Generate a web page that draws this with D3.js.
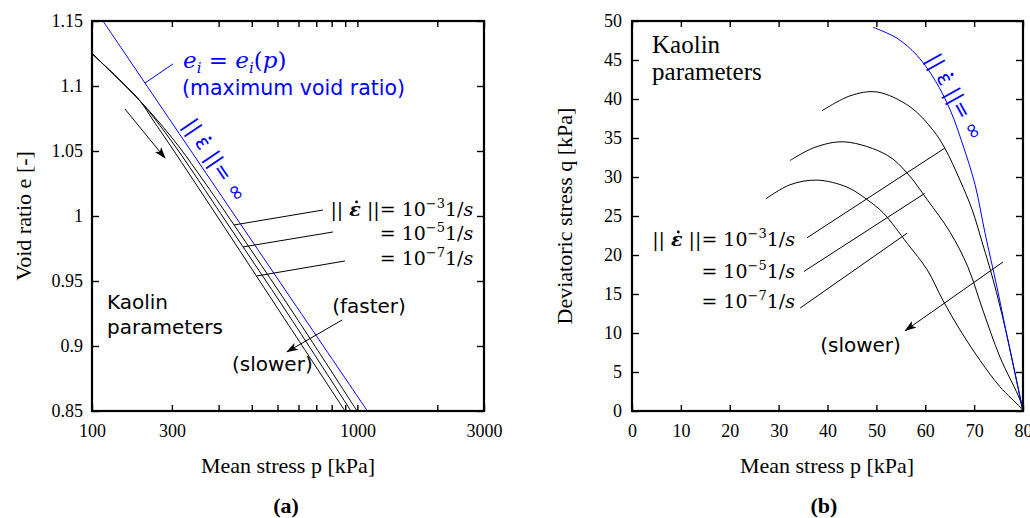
<!DOCTYPE html>
<html>
<head>
<meta charset="utf-8">
<script src="https://cdn.jsdelivr.net/npm/d3@7"></script>
<style>
body { margin: 0; background: #fff; }
text { font-family: "Liberation Serif", "Times New Roman", serif; fill: #000; }
.sans { font-family: "DejaVu Sans", sans-serif; }
.math { font-family: "DejaVu Serif", serif; }
</style>
</head>
<body>
<div id="chart"></div>
<script>
// ---------- panel (a): void ratio e vs mean stress p (log axis) ----------
const pTicksA = [100, 200, 300, 400, 500, 600, 700, 800, 900, 1000, 2000, 3000];
const pLabelsA = {100: "100", 200: "300", 1000: "1000", 3000: "3000"};
const eTicksA = [0.85, 0.9, 0.95, 1, 1.05, 1.1, 1.15];

// e_i(p), maximum void ratio
const blueA_p = [110, 346, 1091];
const blueA_e = [1.15, 1.0, 0.85];
// rate 1e-3, 1e-5, 1e-7 1/s
const fastA_p = [100, 130.9, 151.7, 177.3, 214.6, 262.0, 337.0, 576.9, 997];
const fastA_e = [1.125, 1.102, 1.0885, 1.0731, 1.0523, 1.0277, 0.9954, 0.9246, 0.85];
const midA_p  = [100, 130.9, 151.7, 172.7, 205.5, 244.4, 317.1, 547.7, 946];
const midA_e  = [1.125, 1.102, 1.0885, 1.0746, 1.0538, 1.0315, 0.9969, 0.9246, 0.85];
const slowA_p = [100, 130.9, 151.7, 169.7, 200.2, 295.8, 510.9, 898];
const slowA_e = [1.125, 1.102, 1.0885, 1.0738, 1.0523, 1.0, 0.9262, 0.85];

// ---------- panel (b): deviatoric stress q vs mean stress p ----------
const pTicksB = [0, 10, 20, 30, 40, 50, 60, 70, 80];
const qTicksB = [0, 5, 10, 15, 20, 25, 30, 35, 40, 45, 50];

const blueB_p = [49.3, 54.2, 58.3, 62.0, 65.1, 67.7, 70.2, 72.2, 74.7, 77.3, 80];
const blueB_q = [49.2, 47.8, 45.6, 42.4, 38.6, 34.1, 29.0, 22.9, 15.8, 7.9, 0];
const fastB_p = [38.9, 44.6, 50.1, 56.9, 61.6, 64.0, 67.1, 69.6, 71.8, 73.9, 76.7, 80];
const fastB_q = [38.5, 40.4, 40.9, 39.0, 36.0, 33.7, 29.6, 25.8, 21.3, 16.8, 9.7, 0];
const midB_p  = [32.3, 37.4, 43.6, 52.2, 56.3, 60.4, 65.1, 68.7, 71.8, 75.3, 79.4, 80];
const midB_q  = [32.1, 33.8, 34.5, 32.8, 30.5, 27.1, 22.9, 18.5, 12.9, 6.9, 1.4, 0];
const slowB_p = [27.4, 32.3, 37.9, 44.0, 48.1, 51.4, 56.3, 60.4, 63.6, 67.1, 71.2, 75.3, 79.4, 80];
const slowB_q = [27.2, 29.0, 29.6, 28.7, 27.1, 25.4, 21.5, 18.1, 14.2, 10.4, 6.5, 3.1, 0.5, 0];

const rateExps = ["\u22123", "\u22125", "\u22127"];
const blue = "#0000ff";

const W = 1030, H = 518;
const svg = d3.select("#chart").append("svg")
    .attr("width", W).attr("height", H);
const defs = svg.append("defs");

const zip = (a, b) => a.map((v, i) => [v, b[i]]);

function frameAndAxes(g, x, y, xTicks, yTicks, xFmt, yFmt, ypad) {
    const [x0, x1] = x.range(), [y0, y1] = y.range();
    g.append("g").attr("transform", `translate(0,${y0})`)
        .call(d3.axisBottom(x).tickValues(xTicks).tickSizeInner(-6).tickSizeOuter(0)
            .tickPadding(13).tickFormat(xFmt));
    g.append("g").attr("transform", `translate(0,${y1})`)
        .call(d3.axisTop(x).tickValues(xTicks).tickSizeInner(-6).tickSizeOuter(0).tickFormat(""));
    g.append("g").attr("transform", `translate(${x0},0)`)
        .call(d3.axisLeft(y).tickValues(yTicks).tickSizeInner(-7).tickSizeOuter(0)
            .tickPadding(ypad).tickFormat(yFmt));
    g.append("g").attr("transform", `translate(${x1},0)`)
        .call(d3.axisRight(y).tickValues(yTicks).tickSizeInner(-7).tickSizeOuter(0).tickFormat(""));
    g.selectAll(".domain").remove();
    g.selectAll(".tick line").attr("stroke", "#000").attr("stroke-width", 1.4);
    g.selectAll(".tick text").style("font-size", "18px").style("font-family", "Liberation Serif");
    g.append("rect")
        .attr("x", x0).attr("y", y1).attr("width", x1 - x0).attr("height", y0 - y1)
        .attr("fill", "none").attr("stroke", "#000").attr("stroke-width", 2.2);
}

// put a small dot over the character at index i of a text (epsilon-dot)
function dotOver(parent, text, i, baseY, fs, color, shift) {
    const ext = text.node().getExtentOfChar(i);
    parent.append("circle")
        .attr("cx", ext.x + ext.width / 2 + shift)
        .attr("cy", baseY - 0.74 * fs)
        .attr("r", fs * 0.075)
        .attr("fill", color);
}

function mathLabel(g, px, py, exp, first) {
    const fs = 19;
    const t = g.append("text").attr("class", "math").attr("x", px).attr("y", py)
        .attr("text-anchor", "end").style("font-size", fs + "px");
    if (first) {
        t.append("tspan").text("|| ");
        t.append("tspan").style("font-weight", "bold").style("font-style", "italic").text("\u03B5");
        t.append("tspan").text(" ||= 10");
    } else {
        t.append("tspan").text("= 10");
    }
    t.append("tspan").attr("dy", -8).style("font-size", "13px").text(exp);
    t.append("tspan").attr("dy", 8).text("1/");
    t.append("tspan").style("font-style", "italic").text("s");
    if (first) dotOver(g, t, 3, py, fs, "#000", 1.5);
}

function infLabel(g, cx, cy, angle) {
    const fs = 21;
    const gg = g.append("g").attr("transform", `translate(${cx},${cy}) rotate(${angle})`);
    const base = 0.35 * fs;
    const t = gg.append("text").attr("class", "sans")
        .attr("x", 0).attr("y", base).attr("text-anchor", "middle")
        .style("font-size", fs + "px").style("fill", blue);
    t.append("tspan").text("|| \u03B5 ||= \u221E");
    dotOver(gg, t, 3, base, fs, blue, 0);
}

defs.append("marker")
    .attr("id", "arr").attr("viewBox", "0 -5 12 10")
    .attr("refX", 11).attr("refY", 0)
    .attr("markerWidth", 12).attr("markerHeight", 10)
    .attr("markerUnits", "userSpaceOnUse").attr("orient", "auto")
    .append("path").attr("d", "M0,-4L12,0L0,4L3,0Z").attr("fill", "#000");

// ================= panel (a) =================
{
    const x = d3.scaleLog().domain([100, 3000]).range([92, 484]);
    const y = d3.scaleLinear().domain([0.85, 1.15]).range([411, 21]);
    const g = svg.append("g");
    defs.append("clipPath").attr("id", "clipA")
        .append("rect").attr("x", 92).attr("y", 21).attr("width", 392).attr("height", 390);

    const line = d3.line().x(d => x(d[0])).y(d => y(d[1]))
        .curve(d3.curveCatmullRom.alpha(0.5));
    const cg = g.append("g").attr("clip-path", "url(#clipA)");
    [[fastA_p, fastA_e], [midA_p, midA_e], [slowA_p, slowA_e]].forEach(([p, e]) =>
        cg.append("path").datum(zip(p, e)).attr("d", line)
            .attr("fill", "none").attr("stroke", "#000").attr("stroke-width", 1));
    cg.append("path").datum(zip(blueA_p, blueA_e)).attr("d", line)
        .attr("fill", "none").attr("stroke", blue).attr("stroke-width", 1);

    frameAndAxes(g, x, y, pTicksA, eTicksA, d => pLabelsA[d] || "", d => d3.format("")(d), 9);

    // leader lines to rate labels
    const leadA = [[343.1, 0.9931, 742, 1.0046], [370.9, 0.9762, 809, 0.9877], [416.2, 0.9538, 898, 0.9654]];
    leadA.forEach(l => g.append("line")
        .attr("x1", x(l[0])).attr("y1", y(l[1])).attr("x2", x(l[2])).attr("y2", y(l[3]))
        .attr("stroke", "#000").attr("stroke-width", 1));
    [1.0, 0.9816, 0.9624].forEach((e, i) => mathLabel(g, x(2734), y(e), rateExps[i], i === 0));

    // loading direction arrow
    g.append("line").attr("x1", x(133.1)).attr("y1", y(1.0823)).attr("x2", x(188.4)).attr("y2", y(1.0446))
        .attr("stroke", "#000").attr("stroke-width", 1).attr("marker-end", "url(#arr)");
    // faster -> slower arrow
    g.append("line").attr("x1", x(875.6)).attr("y1", y(0.920)).attr("x2", x(542.9)).attr("y2", y(0.8955))
        .attr("stroke", "#000").attr("stroke-width", 1).attr("marker-end", "url(#arr)");

    // e_i label
    g.append("line").attr("x1", x(158.4)).attr("y1", y(1.1023)).attr("x2", x(202)).attr("y2", y(1.117))
        .attr("stroke", blue).attr("stroke-width", 1);
    const ei = g.append("text").attr("class", "math").attr("x", x(220.3)).attr("y", y(1.1139))
        .style("font-size", "23px").style("fill", blue);
    ei.append("tspan").style("font-style", "italic").text("e");
    ei.append("tspan").attr("dy", 5).style("font-size", "15px").style("font-style", "italic").text("i");
    ei.append("tspan").attr("dy", -5).text(" = ");
    ei.append("tspan").style("font-style", "italic").text("e");
    ei.append("tspan").attr("dy", 5).style("font-size", "15px").style("font-style", "italic").text("i");
    ei.append("tspan").attr("dy", -5).text("(");
    ei.append("tspan").style("font-style", "italic").text("p");
    ei.append("tspan").text(")");
    g.append("text").attr("class", "sans").attr("x", x(218.4)).attr("y", y(1.0931))
        .style("font-size", "20.5px").style("fill", blue).text("(maximum void ratio)");

    infLabel(g, x(290.8), y(1.0431), 56);

    g.append("text").attr("class", "sans").attr("x", x(113.9)).attr("y", y(0.9285))
        .style("font-size", "20px").text("Kaolin");
    g.append("text").attr("class", "sans").attr("x", x(113.9)).attr("y", y(0.9093))
        .style("font-size", "20px").text("parameters");
    g.append("text").attr("class", "sans").attr("x", x(803.7)).attr("y", y(0.9255))
        .style("font-size", "20px").text("(faster)");
    g.append("text").attr("class", "sans").attr("x", x(336.9)).attr("y", y(0.8808))
        .style("font-size", "20px").text("(slower)");

    g.append("text").attr("transform", "translate(31,216) rotate(-90)")
        .attr("text-anchor", "middle").style("font-size", "22px").text("Void ratio e  [-]");
    g.append("text").attr("x", 288).attr("y", 473).attr("text-anchor", "middle")
        .style("font-size", "22px").text("Mean stress p [kPa]");
    g.append("text").attr("x", 286).attr("y", 513).attr("text-anchor", "middle")
        .style("font-size", "22px").style("font-weight", "bold").text("(a)");
}

// ================= panel (b) =================
{
    const x = d3.scaleLinear().domain([0, 80]).range([632, 1023]);
    const y = d3.scaleLinear().domain([0, 50]).range([411, 21]);
    const g = svg.append("g");
    const line = d3.line().x(d => x(d[0])).y(d => y(d[1]))
        .curve(d3.curveCatmullRom.alpha(0.5));
    [[fastB_p, fastB_q], [midB_p, midB_q], [slowB_p, slowB_q]].forEach(([p, q]) =>
        g.append("path").datum(zip(p, q)).attr("d", line)
            .attr("fill", "none").attr("stroke", "#000").attr("stroke-width", 1));
    g.append("path").datum(zip(blueB_p, blueB_q)).attr("d", line)
        .attr("fill", "none").attr("stroke", blue).attr("stroke-width", 1);

    frameAndAxes(g, x, y, pTicksB, qTicksB, d => d, d => d, 10);

    const leadB = [[35.8, 22.2, 64.0, 33.7], [35.2, 17.9, 59.9, 27.9], [34.4, 13.2, 56.3, 22.8]];
    leadB.forEach(l => g.append("line")
        .attr("x1", x(l[0])).attr("y1", y(l[1])).attr("x2", x(l[2])).attr("y2", y(l[3]))
        .attr("stroke", "#000").attr("stroke-width", 1));
    [21.15, 17.05, 13.2].forEach((q, i) => mathLabel(g, x(33.35), y(q), rateExps[i], i === 0));

    g.append("line").attr("x1", x(75.9)).attr("y1", y(19.1)).attr("x2", x(55.9)).attr("y2", y(10.3))
        .attr("stroke", "#000").attr("stroke-width", 1).attr("marker-end", "url(#arr)");
    g.append("text").attr("class", "sans").attr("x", x(38.5)).attr("y", y(7.56))
        .style("font-size", "20px").text("(slower)");

    infLabel(g, x(66.1), y(40.3), 61);

    g.append("text").attr("x", x(4.1)).attr("y", y(45.9)).style("font-size", "25px").text("Kaolin");
    g.append("text").attr("x", x(4.1)).attr("y", y(42.4)).style("font-size", "25px").text("parameters");

    g.append("text").attr("transform", "translate(572,216) rotate(-90)")
        .attr("text-anchor", "middle").style("font-size", "22px").text("Deviatoric stress q [kPa]");
    g.append("text").attr("x", 827).attr("y", 473).attr("text-anchor", "middle")
        .style("font-size", "22px").text("Mean stress p [kPa]");
    g.append("text").attr("x", 824).attr("y", 513).attr("text-anchor", "middle")
        .style("font-size", "22px").style("font-weight", "bold").text("(b)");
}
</script>
</body>
</html>
